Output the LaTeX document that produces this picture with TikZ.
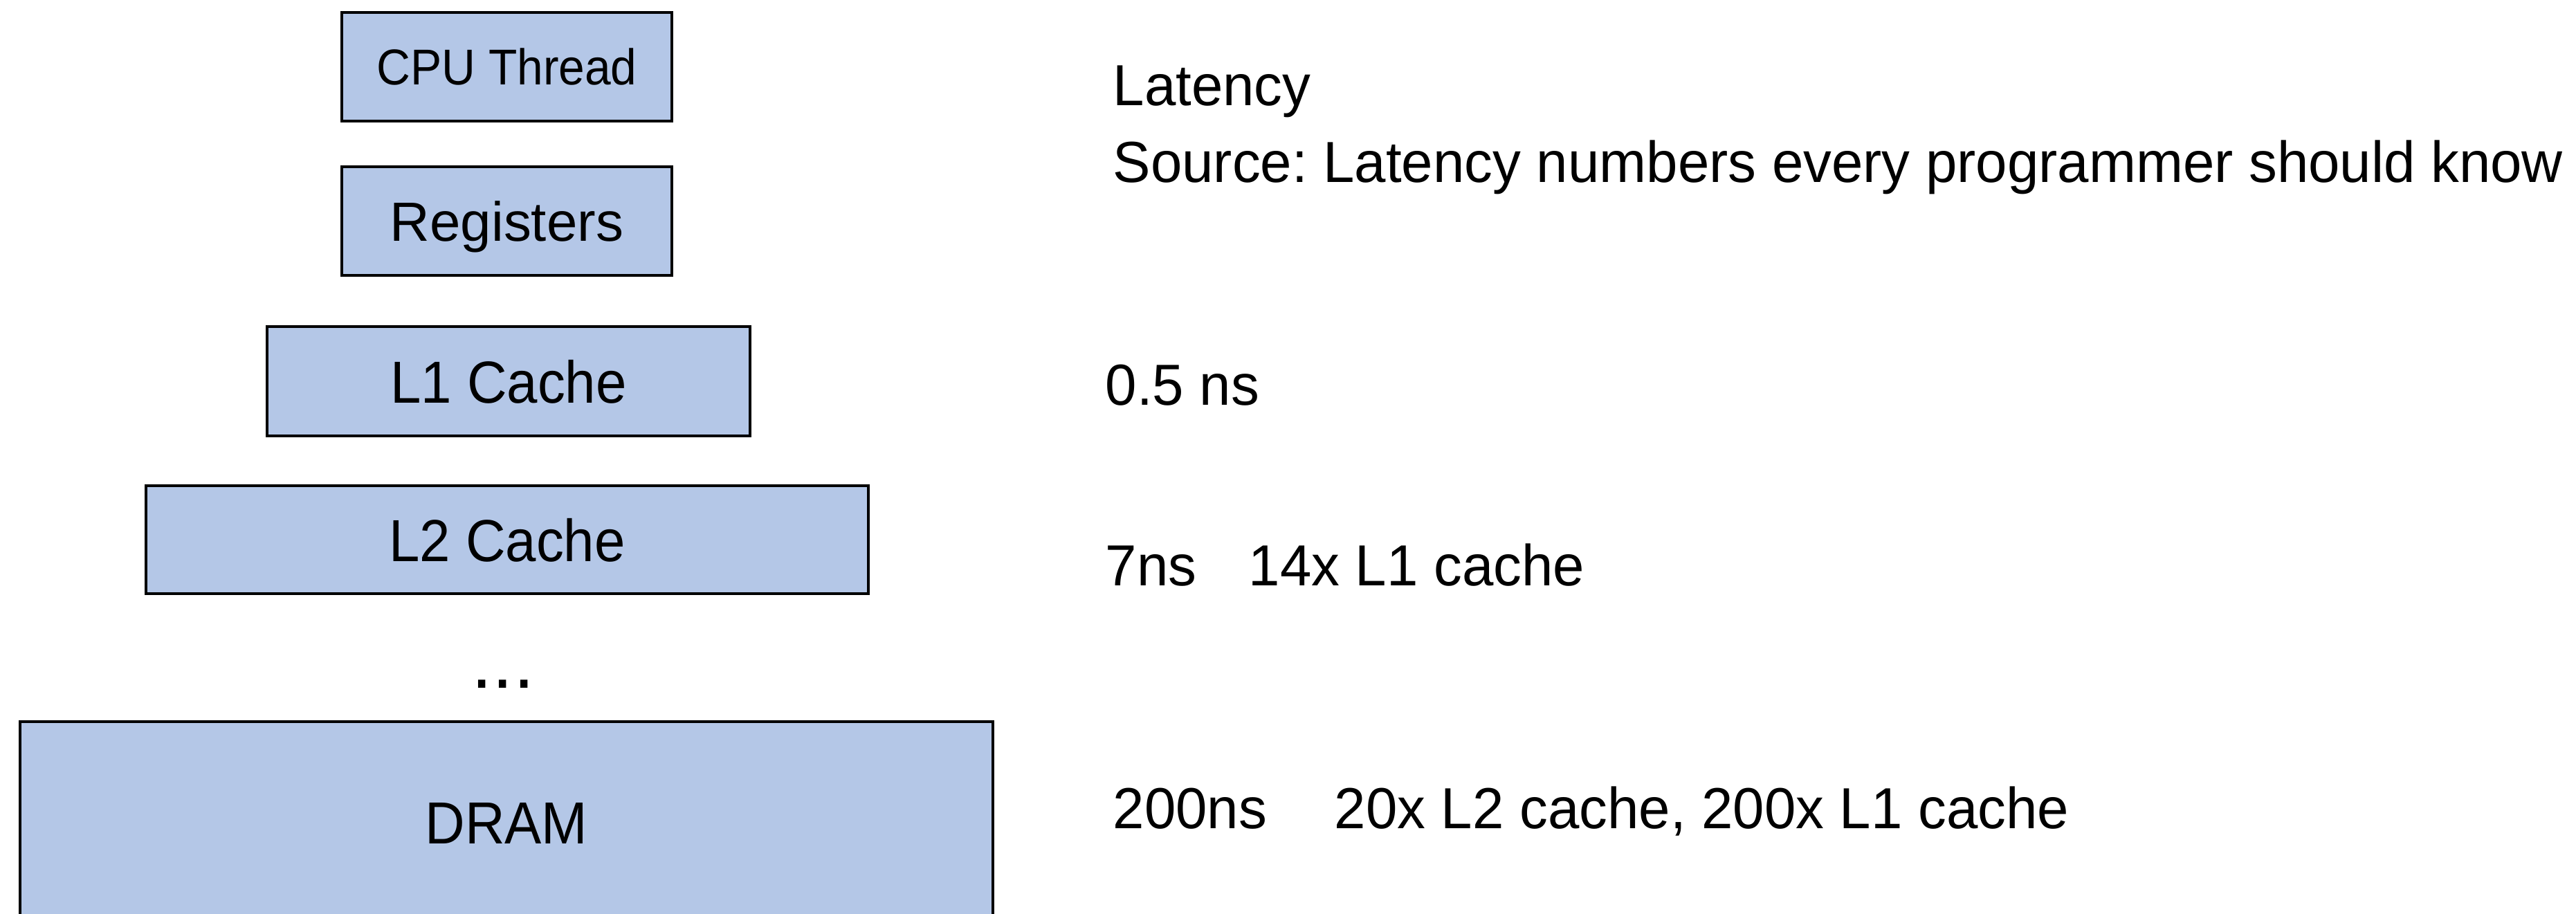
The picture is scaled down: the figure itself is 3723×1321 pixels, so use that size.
\documentclass[tikz,border=0pt]{standalone}
\usepackage{fontspec}
\setmainfont{Liberation Sans}[FakeStretch=0.975]
\newfontfamily\narrowfont{Liberation Sans}[FakeStretch=0.93]
\newfontfamily\regfont{Liberation Sans}
\definecolor{boxfill}{RGB}{180,199,231}
\frenchspacing
\begin{document}
\begin{tikzpicture}[x=0.01cm,y=-0.01cm,
  mem/.style={draw=black, fill=boxfill, line width=1.1pt, inner sep=0pt, align=center, text depth=0pt},
  lbl/.style={anchor=base west, inner sep=0pt, font=\fontsize{23.8}{28}\selectfont}]
\useasboundingbox (0,0) rectangle (3723,1321);
\fill[white] (0,0) rectangle (3723,1321);
\node[mem, minimum width=477*0.01cm, minimum height=157*0.01cm, font=\narrowfont\fontsize{20.7}{24}\selectfont] (cpu) at (732.5,96.5) {CPU Thread};
\node[mem, minimum width=477*0.01cm, minimum height=157*0.01cm, font=\regfont\fontsize{22.7}{26}\selectfont] (reg) at (732.5,319.5) {Registers};
\node[mem, minimum width=698*0.01cm, minimum height=158*0.01cm, font=\narrowfont\fontsize{24.4}{28}\selectfont] (l1) at (735,551) {L1 Cache};
\node[mem, minimum width=1044*0.01cm, minimum height=156*0.01cm, font=\narrowfont\fontsize{24.4}{28}\selectfont] (l2) at (733,780) {L2 Cache};
\node[anchor=base, inner sep=0pt, font=\regfont\fontsize{31}{34}\selectfont] (dots) at (727,994) {...};
\node[mem, minimum width=1406*0.01cm, minimum height=294*0.01cm, font=\narrowfont\fontsize{24.4}{28}\selectfont] (dram) at (732,1190) {DRAM};
\node[lbl] (lat) at (1608,152) {Latency};
\node[lbl] (src) at (1608,263) {Source: Latency numbers every programmer should know};
\node[lbl] (t1) at (1597,585) {0.5 ns};
\node[lbl] (t2) at (1597,846) {7ns};
\node[lbl] (t2b) at (1804,846) {14x L1 cache};
\node[lbl] (t3) at (1608,1197) {200ns};
\node[lbl] (t3b) at (1928,1197) {20x L2 cache, 200x L1 cache};
\end{tikzpicture}
\end{document}
